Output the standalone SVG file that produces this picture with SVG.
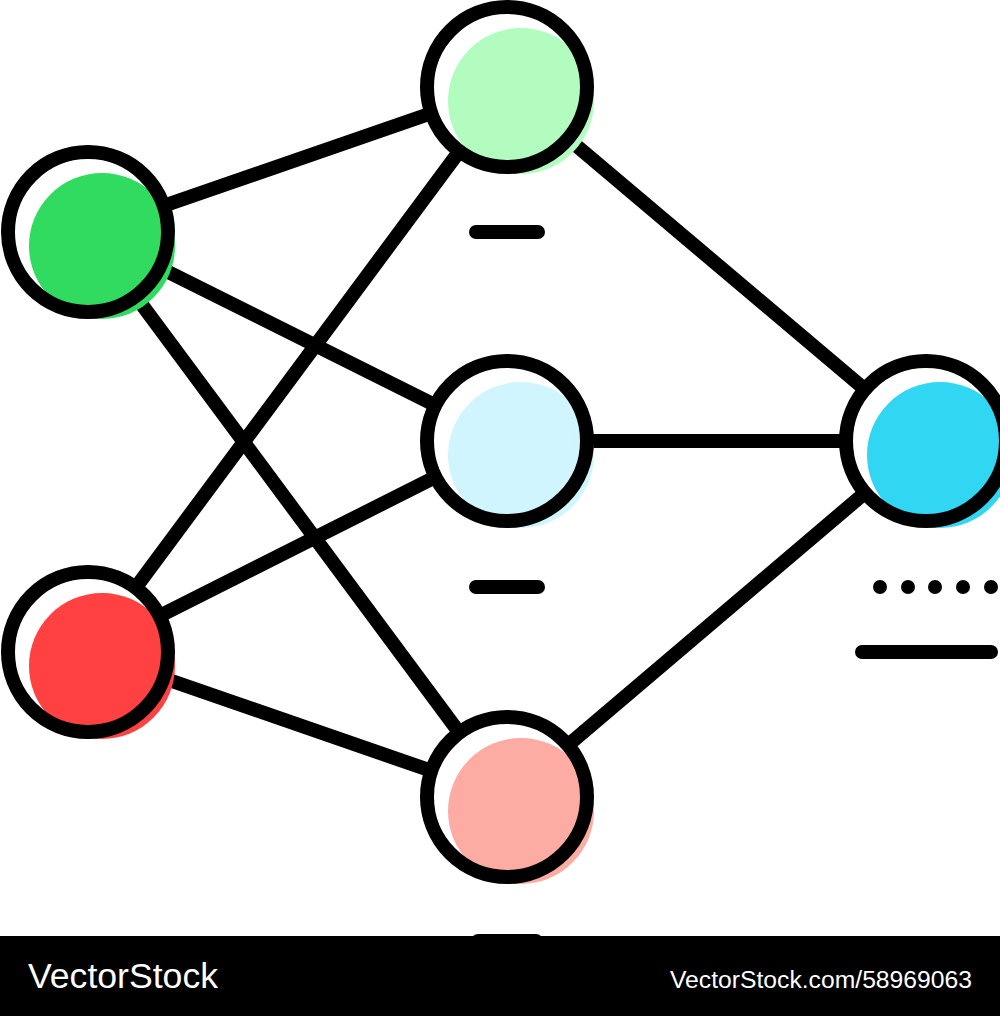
<svg xmlns="http://www.w3.org/2000/svg" width="1000" height="1016" viewBox="0 0 1000 1016">
  <style>
    .edge { stroke: #000; stroke-width: 14; stroke-linecap: round; fill: none; }
    .ring { fill: none; stroke: #000; stroke-width: 14; }
    .bg { fill: #fff; }
    .mark { stroke: #000; stroke-width: 14; stroke-linecap: round; }
    .wm { font-family: "Liberation Sans", Arial, sans-serif; fill: #fff; }
  </style>
  <rect x="0" y="0" width="1000" height="1016" fill="#fff"/>
  <g id="connectors">
    <line class="edge" x1="88" y1="232" x2="507" y2="87"/>
    <line class="edge" x1="88" y1="232" x2="507" y2="441"/>
    <line class="edge" x1="88" y1="232" x2="507" y2="797"/>
    <line class="edge" x1="88" y1="652" x2="507" y2="87"/>
    <line class="edge" x1="88" y1="652" x2="507" y2="441"/>
    <line class="edge" x1="88" y1="652" x2="507" y2="797"/>
    <line class="edge" x1="507" y1="87" x2="926" y2="441"/>
    <line class="edge" x1="507" y1="441" x2="926" y2="441"/>
    <line class="edge" x1="507" y1="797" x2="926" y2="441"/>
  </g>
  <g id="node-input-1">
    <circle class="bg" cx="88" cy="232" r="80"/>
    <circle cx="102" cy="246" r="73" fill="#31DB60"/>
    <circle class="ring" cx="88" cy="232" r="80"/>
  </g>
  <g id="node-input-2">
    <circle class="bg" cx="88" cy="652" r="80"/>
    <circle cx="102" cy="666" r="73" fill="#FF4141"/>
    <circle class="ring" cx="88" cy="652" r="80"/>
  </g>
  <g id="node-hidden-1">
    <circle class="bg" cx="507" cy="87" r="80"/>
    <circle cx="521" cy="101" r="73" fill="#B2FCC0"/>
    <circle class="ring" cx="507" cy="87" r="80"/>
  </g>
  <g id="node-hidden-2">
    <circle class="bg" cx="507" cy="441" r="80"/>
    <circle cx="521" cy="455" r="73" fill="#D0F5FE"/>
    <circle class="ring" cx="507" cy="441" r="80"/>
  </g>
  <g id="node-hidden-3">
    <circle class="bg" cx="507" cy="797" r="80"/>
    <circle cx="521" cy="811" r="73" fill="#FDACA3"/>
    <circle class="ring" cx="507" cy="797" r="80"/>
  </g>
  <g id="node-output">
    <circle class="bg" cx="926" cy="441" r="80"/>
    <circle cx="940" cy="455" r="73" fill="#31D6F3"/>
    <circle class="ring" cx="926" cy="441" r="80"/>
  </g>
  <g id="marks">
    <line class="mark" x1="476" y1="232" x2="538" y2="232"/>
    <line class="mark" x1="476" y1="587" x2="538" y2="587"/>
    <line class="mark" x1="478" y1="941" x2="536" y2="941"/>
    <circle cx="880" cy="587" r="7"/>
    <circle cx="908" cy="587" r="7"/>
    <circle cx="935" cy="587" r="7"/>
    <circle cx="963" cy="587" r="7"/>
    <circle cx="991" cy="587" r="7"/>
    <line class="mark" x1="862" y1="652" x2="991" y2="652"/>
  </g>
  <g id="watermark">
    <rect x="0" y="936" width="1000" height="80" fill="#000"/>
    <text class="wm" x="28" y="988" font-size="35" textLength="190" lengthAdjust="spacingAndGlyphs">VectorStock</text>
    <text class="wm" x="670" y="988" font-size="23.5" textLength="302" lengthAdjust="spacingAndGlyphs">VectorStock.com/58969063</text>
  </g>
</svg>
